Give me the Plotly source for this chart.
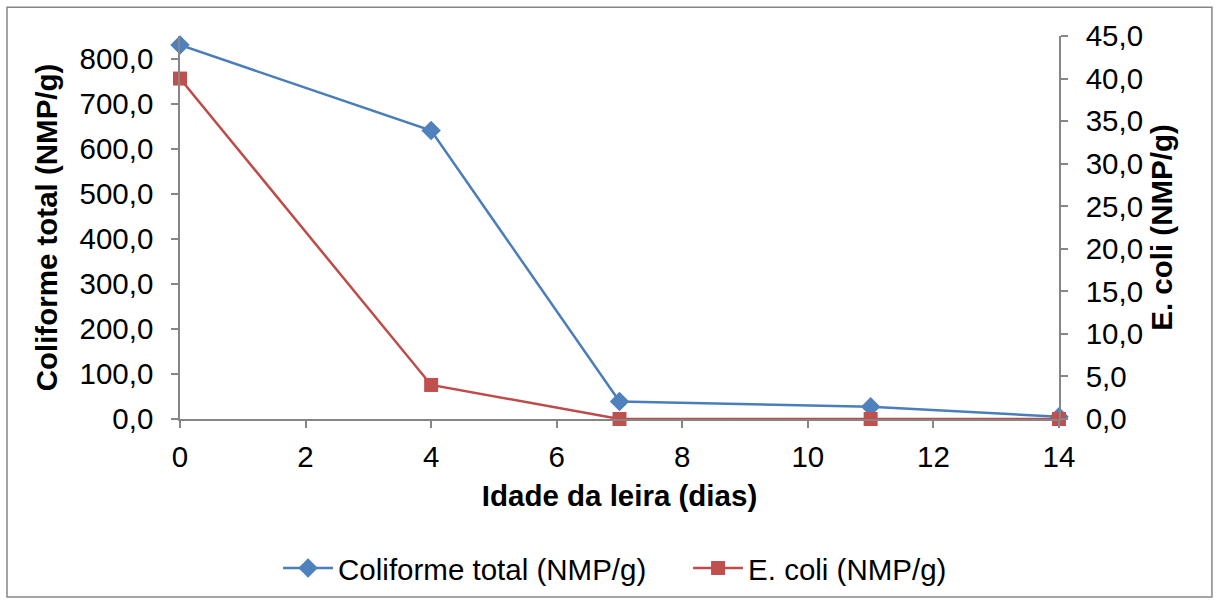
import plotly.graph_objects as go

# Idade da leira (dias)
dias = [0, 4, 7, 11, 14]
# Coliforme total (NMP/g)
coliforme_total = [830.0, 640.0, 39.0, 27.0, 5.0]
# E. coli (NMP/g)
e_coli = [40.0, 4.0, 0.0, 0.0, 0.0]

FONT = "Liberation Sans, Arial, sans-serif"
AXIS_GRAY = "#868686"
BLUE = "#4A7EBB"
RED = "#BE4B48"
FS = 29.5

fig = go.Figure()
fig.add_trace(go.Scatter(
    x=dias, y=coliforme_total, name="Coliforme total (NMP/g)",
    mode="lines+markers", cliponaxis=False,
    line=dict(color=BLUE, width=2.5),
    marker=dict(symbol="diamond", size=15, color="#4F81BD"),
))
fig.add_trace(go.Scatter(
    x=dias, y=e_coli, name="E. coli (NMP/g)", yaxis="y2",
    mode="lines+markers", cliponaxis=False,
    line=dict(color=RED, width=2.5),
    marker=dict(symbol="square", size=14, color="#C0504D"),
))

axis_common = dict(
    showgrid=False, zeroline=False, showline=True, linecolor=AXIS_GRAY, linewidth=1.5,
    ticks="outside", ticklen=7, tickcolor=AXIS_GRAY, tickwidth=1.5,
    tickfont=dict(family=FONT, size=FS, color="#000000"),
)

fig.update_layout(
    width=1217, height=607,
    margin=dict(l=180, r=158, t=36, b=186),
    paper_bgcolor="white", plot_bgcolor="white",
    separators=",.",
    font=dict(family=FONT, size=FS, color="#000000"),
    xaxis=dict(
        range=[0, 14], dtick=2, tick0=0, ticklabelstandoff=4, **axis_common,
        title=dict(text="<b>Idade da leira (dias)</b>", font=dict(family=FONT, size=FS), standoff=13),
    ),
    yaxis=dict(
        range=[0, 850], dtick=100, tick0=0, tickformat=".1f", ticklabelstandoff=12,
        **axis_common,
        title=dict(text="<b>Coliforme total (NMP/g)</b>", font=dict(family=FONT, size=FS), standoff=13),
    ),
    yaxis2=dict(
        range=[0, 45], dtick=5, tick0=0, tickformat=".1f", overlaying="y", side="right",
        ticklabelstandoff=12, **axis_common,
        title=dict(text="<b>E. coli (NMP/g)</b>", font=dict(family=FONT, size=FS), standoff=9),
    ),
    legend=dict(
        orientation="h", x=0.578, xanchor="center", y=-0.39, yanchor="middle",
        font=dict(family=FONT, size=FS), itemwidth=50, entrywidth=345,
        bgcolor="rgba(0,0,0,0)",
    ),
    showlegend=True,
    shapes=[dict(
        type="rect", xref="paper", yref="paper",
        x0=-0.1968, x1=1.174, y0=-0.465, y1=1.0753,
        line=dict(color=AXIS_GRAY, width=1.5), fillcolor="rgba(0,0,0,0)", layer="below",
    )],
)

fig.write_html("out.html")
